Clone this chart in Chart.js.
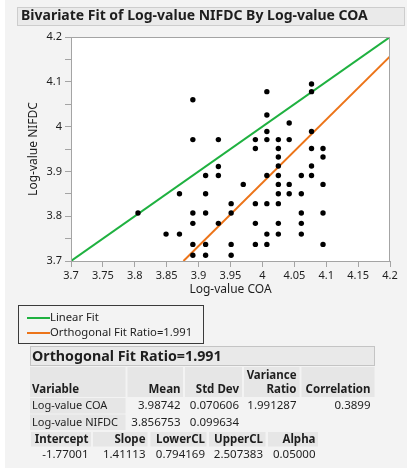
<!DOCTYPE html>
<html>
<head>
<meta charset="utf-8">
<script src="https://cdn.jsdelivr.net/npm/chart.js@4"></script>
<style>
  html, body { margin: 0; padding: 0; background: #fff; }
  #wrap { width: 412px; height: 474px; }
</style>
</head>
<body>
<div id="wrap"><canvas id="chart" width="412" height="474"></canvas></div>
<script>
// scatter values (Log-value COA vs Log-value NIFDC)
var coaValues = [
	3.805, 3.849, 3.870, 3.870,
	3.891, 3.891, 3.891, 3.891, 3.891, 3.891,
	3.911, 3.911, 3.911, 3.911, 3.911,
	3.931, 3.931, 3.931, 3.931,
	3.951, 3.951, 3.951, 3.951,
	3.970,
	3.989, 3.989, 3.989, 3.989, 3.989,
	4.007, 4.007, 4.007, 4.007, 4.007, 4.007, 4.007, 4.007,
	4.025, 4.025, 4.025, 4.025, 4.025, 4.025, 4.025, 4.025, 4.025, 4.025,
	4.042, 4.042, 4.042, 4.042,
	4.061, 4.061, 4.061, 4.061, 4.061,
	4.077, 4.077, 4.077, 4.077, 4.077, 4.077,
	4.095, 4.095, 4.095, 4.095, 4.095
];
var nifdcValues = [
	3.807, 3.760, 3.850, 3.760,
	4.060, 3.971, 3.807, 3.784, 3.737, 3.713,
	3.891, 3.850, 3.807, 3.737, 3.713,
	3.971, 3.911, 3.891, 3.784,
	3.828, 3.807, 3.737, 3.713,
	3.871,
	3.971, 3.951, 3.828, 3.784, 3.737,
	4.078, 4.026, 3.989, 3.971, 3.891, 3.828, 3.760, 3.737,
	3.971, 3.951, 3.932, 3.912, 3.891, 3.871, 3.850, 3.828, 3.784, 3.760,
	4.008, 3.971, 3.871, 3.850,
	3.891, 3.850, 3.807, 3.784, 3.760,
	4.095, 4.078, 3.989, 3.951, 3.912, 3.891,
	3.951, 3.932, 3.871, 3.807, 3.737
];

// fitted lines (end points as drawn)
var linearFitX = [3.7, 4.2];
var linearFitY = [3.7, 4.2];
var orthoFitX = [3.8763, 4.2];
var orthoFitY = [3.7, 4.1567];

// axes
var xTickValues = [3.7, 3.75, 3.8, 3.85, 3.9, 3.95, 4.0, 4.05, 4.1, 4.15, 4.2];
var xTickLabels = ['3.7', '3.75', '3.8', '3.85', '3.9', '3.95', '4', '4.05', '4.1', '4.15', '4.2'];
var yTickValues = [3.7, 3.75, 3.8, 3.85, 3.9, 3.95, 4.0, 4.05, 4.1, 4.15, 4.2];
var yTickLabels = ['3.7', '', '3.8', '', '3.9', '', '4', '', '4.1', '', '4.2'];

// report text
var reportTitle = 'Bivariate Fit of Log-value NIFDC By Log-value COA';
var legendLabels = ['Linear Fit', 'Orthogonal Fit Ratio=1.991'];
var sectionTitle = 'Orthogonal Fit Ratio=1.991';
var statHeaders = ['Variable', 'Mean', 'Std Dev', 'Variance|Ratio', 'Correlation'];
var statRows = [
	['Log-value COA', '3.98742', '0.070606', '1.991287', '0.3899'],
	['Log-value NIFDC', '3.856753', '0.099634', '', '']
];
var fitHeaders = ['Intercept', 'Slope', 'LowerCL', 'UpperCL', 'Alpha'];
var fitValues = ['-1.77001', '1.41113', '0.794169', '2.507383', '0.05000'];

var GREEN = '#1fb140', ORANGE = '#ec7419', AXIS = '#a4a4a4', INK = '#1e1e1e';
var FAMILY = '"Noto Sans", "Open Sans", sans-serif';

Chart.defaults.font.family = FAMILY;
Chart.defaults.color = INK;

function toPoints(xs, ys) {
	return xs.map(function (x, i) { return { x: x, y: ys[i] }; });
}

function fitFont(ctx, str, weight, width) {
	var size = 16;
	while (size > 8) {
		ctx.font = weight + ' ' + size + 'px ' + FAMILY;
		if (ctx.measureText(str).width <= width) break;
		size -= 0.25;
	}
	return ctx.font;
}

function cell(ctx, x, y, w, h) {
	ctx.fillStyle = '#e6e6e6';
	ctx.fillRect(x, y, w, h);
}

function txt(ctx, s, x, y, font, align) {
	ctx.font = font;
	ctx.textAlign = align || 'left';
	ctx.textBaseline = 'middle';
	ctx.fillStyle = INK;
	ctx.fillText(s, x, y);
}

var backdrop = {
	id: 'backdrop',
	beforeDraw: function (c) {
		var ctx = c.ctx, a = c.chartArea;
		ctx.save();
		ctx.fillStyle = '#ffffff';
		ctx.fillRect(0, 0, c.width, c.height);
		ctx.fillStyle = '#f3f3f3';
		ctx.fillRect(5, 0, 402, 468);
		ctx.fillStyle = '#ffffff';
		ctx.fillRect(a.left, a.top, a.right - a.left, a.bottom - a.top);
		ctx.restore();
	},
	afterDatasetsDraw: function (c) {
		var ctx = c.ctx, a = c.chartArea;
		ctx.save();
		ctx.strokeStyle = AXIS;
		ctx.lineWidth = 1;
		ctx.strokeRect(a.left + 0.5, a.top + 0.5, a.right - a.left - 1, a.bottom - a.top);
		ctx.restore();
	},
	afterDraw: function (c) {
		var ctx = c.ctx;
		var regular = '11.5px ' + FAMILY, bold = 'bold 11.5px ' + FAMILY;
		ctx.save();

		// title bar
		ctx.fillStyle = '#eaeaea';
		ctx.fillRect(17, 7, 387, 18);
		ctx.strokeStyle = '#cdcdcd';
		ctx.strokeRect(17.5, 7.5, 387, 18);
		txt(ctx, reportTitle, 21, 16.5, fitFont(ctx, reportTitle, 'bold', 348));

		// legend
		ctx.strokeStyle = '#3a3a3a';
		ctx.lineWidth = 1;
		ctx.strokeRect(18.5, 305.5, 185, 38);
		[GREEN, ORANGE].forEach(function (col, i) {
			var y = 318 + i * 15;
			ctx.strokeStyle = col;
			ctx.lineWidth = 2;
			ctx.beginPath();
			ctx.moveTo(27, y);
			ctx.lineTo(50, y);
			ctx.stroke();
			txt(ctx, legendLabels[i], 50, y, fitFont(ctx, legendLabels[1], 'normal', 144));
		});

		// section header
		ctx.lineWidth = 1;
		ctx.fillStyle = '#e9e9e9';
		ctx.fillRect(30, 346, 345, 20);
		ctx.strokeStyle = '#c4c4c4';
		ctx.strokeRect(30.5, 346.5, 344, 19);
		txt(ctx, sectionTitle, 32, 356.5, fitFont(ctx, sectionTitle, 'bold', 191));

		// first table
		var sx = [30, 127.5, 185, 244, 301.5];
		var sw = [95.5, 55.5, 57, 55.5, 73];
		var sr = [null, 180.5, 239, 296.5, 370.5];
		var rowFont = fitFont(ctx, statRows[1][0], 'normal', 87);
		statHeaders.forEach(function (h, i) {
			cell(ctx, sx[i], 367, sw[i], 30);
			var parts = h.split('|');
			if (i === 0) {
				txt(ctx, parts[0], 32, 390, bold);
			} else if (parts.length > 1) {
				txt(ctx, parts[0], sr[i], 375.5, bold, 'right');
				txt(ctx, parts[1], sr[i], 390, bold, 'right');
			} else {
				txt(ctx, parts[0], sr[i], 390, bold, 'right');
			}
		});
		statRows.forEach(function (row, r) {
			var y = 398 + r * 16.5;
			cell(ctx, 30, y, 95.5, 15.5);
			row.forEach(function (v, i) {
				if (i === 0) txt(ctx, v, 32, y + 8, rowFont);
				else if (v) txt(ctx, v, sr[i], y + 8, regular, 'right');
			});
		});

		// second table
		var fx = [31, 93, 150.5, 209, 268];
		var fw = [60, 54.5, 56, 56.5, 50];
		var fr = [88.5, 145.5, 205, 263, 315.5];
		fitHeaders.forEach(function (h, i) {
			cell(ctx, fx[i], 432, fw[i], 14.5);
			txt(ctx, h, fr[i], 439.5, bold, 'right');
			txt(ctx, fitValues[i], fr[i], 454.5, regular, 'right');
		});

		ctx.restore();
	}
};

var chart = document.getElementById('chart').getContext('2d');

var data = {
	datasets: [{
		label: 'points',
		data: toPoints(coaValues, nifdcValues),
		backgroundColor: '#000',
		borderColor: '#000',
		pointRadius: 2.7,
		pointBorderWidth: 0,
		showLine: false
	}, {
		label: legendLabels[0],
		data: toPoints(linearFitX, linearFitY),
		borderColor: GREEN,
		borderWidth: 2,
		pointRadius: 0,
		showLine: true
	}, {
		label: legendLabels[1],
		data: toPoints(orthoFitX, orthoFitY),
		borderColor: ORANGE,
		borderWidth: 2,
		pointRadius: 0,
		showLine: true
	}]
};

function fixTicks(values) {
	return function (scale) {
		scale.ticks = values.map(function (v) { return { value: v }; });
	};
}

var options = {
	responsive: false,
	animation: false,
	devicePixelRatio: 1,
	layout: { padding: { left: 0, top: 37, right: 22, bottom: 176 } },
	plugins: { legend: { display: false }, tooltip: { enabled: false } },
	scales: {
		x: {
			type: 'linear',
			min: 3.7,
			max: 4.2,
			afterBuildTicks: fixTicks(xTickValues),
			afterFit: function (s) { s.height = 37; },
			grid: { drawOnChartArea: false, tickLength: 6, color: AXIS },
			border: { color: AXIS },
			ticks: {
				padding: 2,
				maxRotation: 0,
				autoSkip: false,
				font: { size: 11 },
				color: INK,
				callback: function (v, i) { return xTickLabels[i]; }
			},
			title: { display: true, text: 'Log-value COA', font: { size: 12 }, color: INK, padding: { top: 0, bottom: 1 } }
		},
		y: {
			type: 'linear',
			min: 3.7,
			max: 4.2,
			afterBuildTicks: fixTicks(yTickValues),
			afterFit: function (s) { s.width = 71; },
			grid: { drawOnChartArea: false, tickLength: 6, color: AXIS },
			border: { color: AXIS },
			ticks: {
				padding: 3,
				autoSkip: false,
				font: { size: 11 },
				color: INK,
				callback: function (v, i) { return yTickLabels[i]; }
			},
			title: { display: true, text: 'Log-value NIFDC', font: { size: 12 }, color: INK, padding: { top: 26, bottom: 0 } }
		}
	}
};

var chartInstance = new Chart(chart, {
	type: 'scatter',
	data: data,
	options: options,
	plugins: [backdrop]
});
</script>
</body>
</html>
